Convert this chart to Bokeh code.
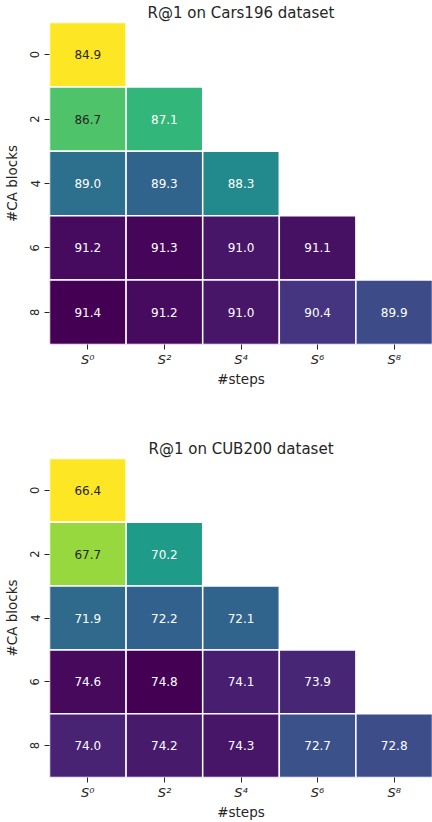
from bokeh.plotting import figure
from bokeh.layouts import column
from bokeh.models import ColumnDataSource, FactorRange, LinearColorMapper
from bokeh.palettes import Viridis256
from bokeh.embed import file_html
from bokeh.resources import INLINE
from bokeh.core.properties import value

# Grid axes: number of steps (columns) and number of CA blocks (rows)
steps = ["S\u2070", "S\u00b2", "S\u2074", "S\u2076", "S\u2078"]
blocks = ["0", "2", "4", "6", "8"]

# R@1 per (blocks, steps); lower-triangular, row i holds i+1 values
cars_r1 = [
    [84.9],
    [86.7, 87.1],
    [89.0, 89.3, 88.3],
    [91.2, 91.3, 91.0, 91.1],
    [91.4, 91.2, 91.0, 90.4, 89.9],
]
cub_r1 = [
    [66.4],
    [67.7, 70.2],
    [71.9, 72.2, 72.1],
    [74.6, 74.8, 74.1, 73.9],
    [74.0, 74.2, 74.3, 72.7, 72.8],
]

FONT = "DejaVu Sans"
DARK = "#262626"
PALETTE = list(Viridis256)[::-1]


def heatmap(title, rows, height, top, bottom):
    flat = [v for r in rows for v in r]
    lo, hi = min(flat), max(flat)
    xs, ys, vals, labels, tcolors = [], [], [], [], []
    for i, r in enumerate(rows):
        for j, v in enumerate(r):
            xs.append(steps[j])
            ys.append(blocks[i])
            vals.append(v)
            labels.append(f"{v:.1f}")
            # light (yellow/green) end of the colormap gets dark text
            t = (v - lo) / (hi - lo)
            tcolors.append(DARK if t < 0.31 else "#ffffff")
    src = ColumnDataSource(dict(x=xs, y=ys, v=vals, label=labels, tc=tcolors))
    mapper = LinearColorMapper(palette=PALETTE, low=lo, high=hi)

    p = figure(
        x_range=FactorRange(*steps),
        y_range=FactorRange(*blocks[::-1]),
        width=432, height=height,
        output_backend="svg", toolbar_location=None,
        min_border_left=47, min_border_right=0,
        min_border_top=top, min_border_bottom=bottom,
    )
    p.rect(x="x", y="y", width=1, height=1, source=src,
           fill_color={"field": "v", "transform": mapper},
           line_color="white", line_width=1.5)
    p.text(x="x", y="y", text="label", source=src, text_color="tc",
           text_align="center", text_baseline="middle",
           text_font=value(FONT), text_font_size="12px")

    p.title.text = title
    p.title.align = "center"
    p.title.text_font = FONT
    p.title.text_font_size = "15px"
    p.title.text_font_style = "normal"
    p.title.text_color = DARK
    p.title.standoff = 2

    p.outline_line_color = None
    p.grid.grid_line_color = None
    p.background_fill_color = "white"
    p.border_fill_color = "white"

    for ax in (p.xaxis[0], p.yaxis[0]):
        ax.axis_line_color = None
        ax.major_tick_line_color = DARK
        ax.major_tick_out = 5
        ax.major_tick_in = 0
        ax.minor_tick_line_color = None
        ax.major_label_text_font = FONT
        ax.major_label_text_color = DARK
        ax.axis_label_text_font = FONT
        ax.axis_label_text_font_size = "13.5px"
        ax.axis_label_text_font_style = "normal"
        ax.axis_label_text_color = DARK

    p.xaxis.axis_label = "#steps"
    p.xaxis.major_label_text_font_size = "13px"
    p.xaxis.major_label_text_font_style = "italic"
    p.xaxis.major_label_standoff = 2
    p.xaxis.axis_label_standoff = 1

    p.yaxis.axis_label = "#CA blocks"
    p.yaxis.major_label_orientation = "vertical"
    p.yaxis.major_label_text_font_size = "11.5px"
    p.yaxis.major_label_standoff = 5
    p.yaxis.axis_label_standoff = 8
    return p


p1 = heatmap("R@1 on Cars196 dataset", cars_r1, 411, 20, 67)
p2 = heatmap("R@1 on CUB200 dataset", cub_r1, 411, 47, 40)

layout = column(p1, p2, spacing=0)
open("out.html", "w").write(file_html(layout, INLINE))
